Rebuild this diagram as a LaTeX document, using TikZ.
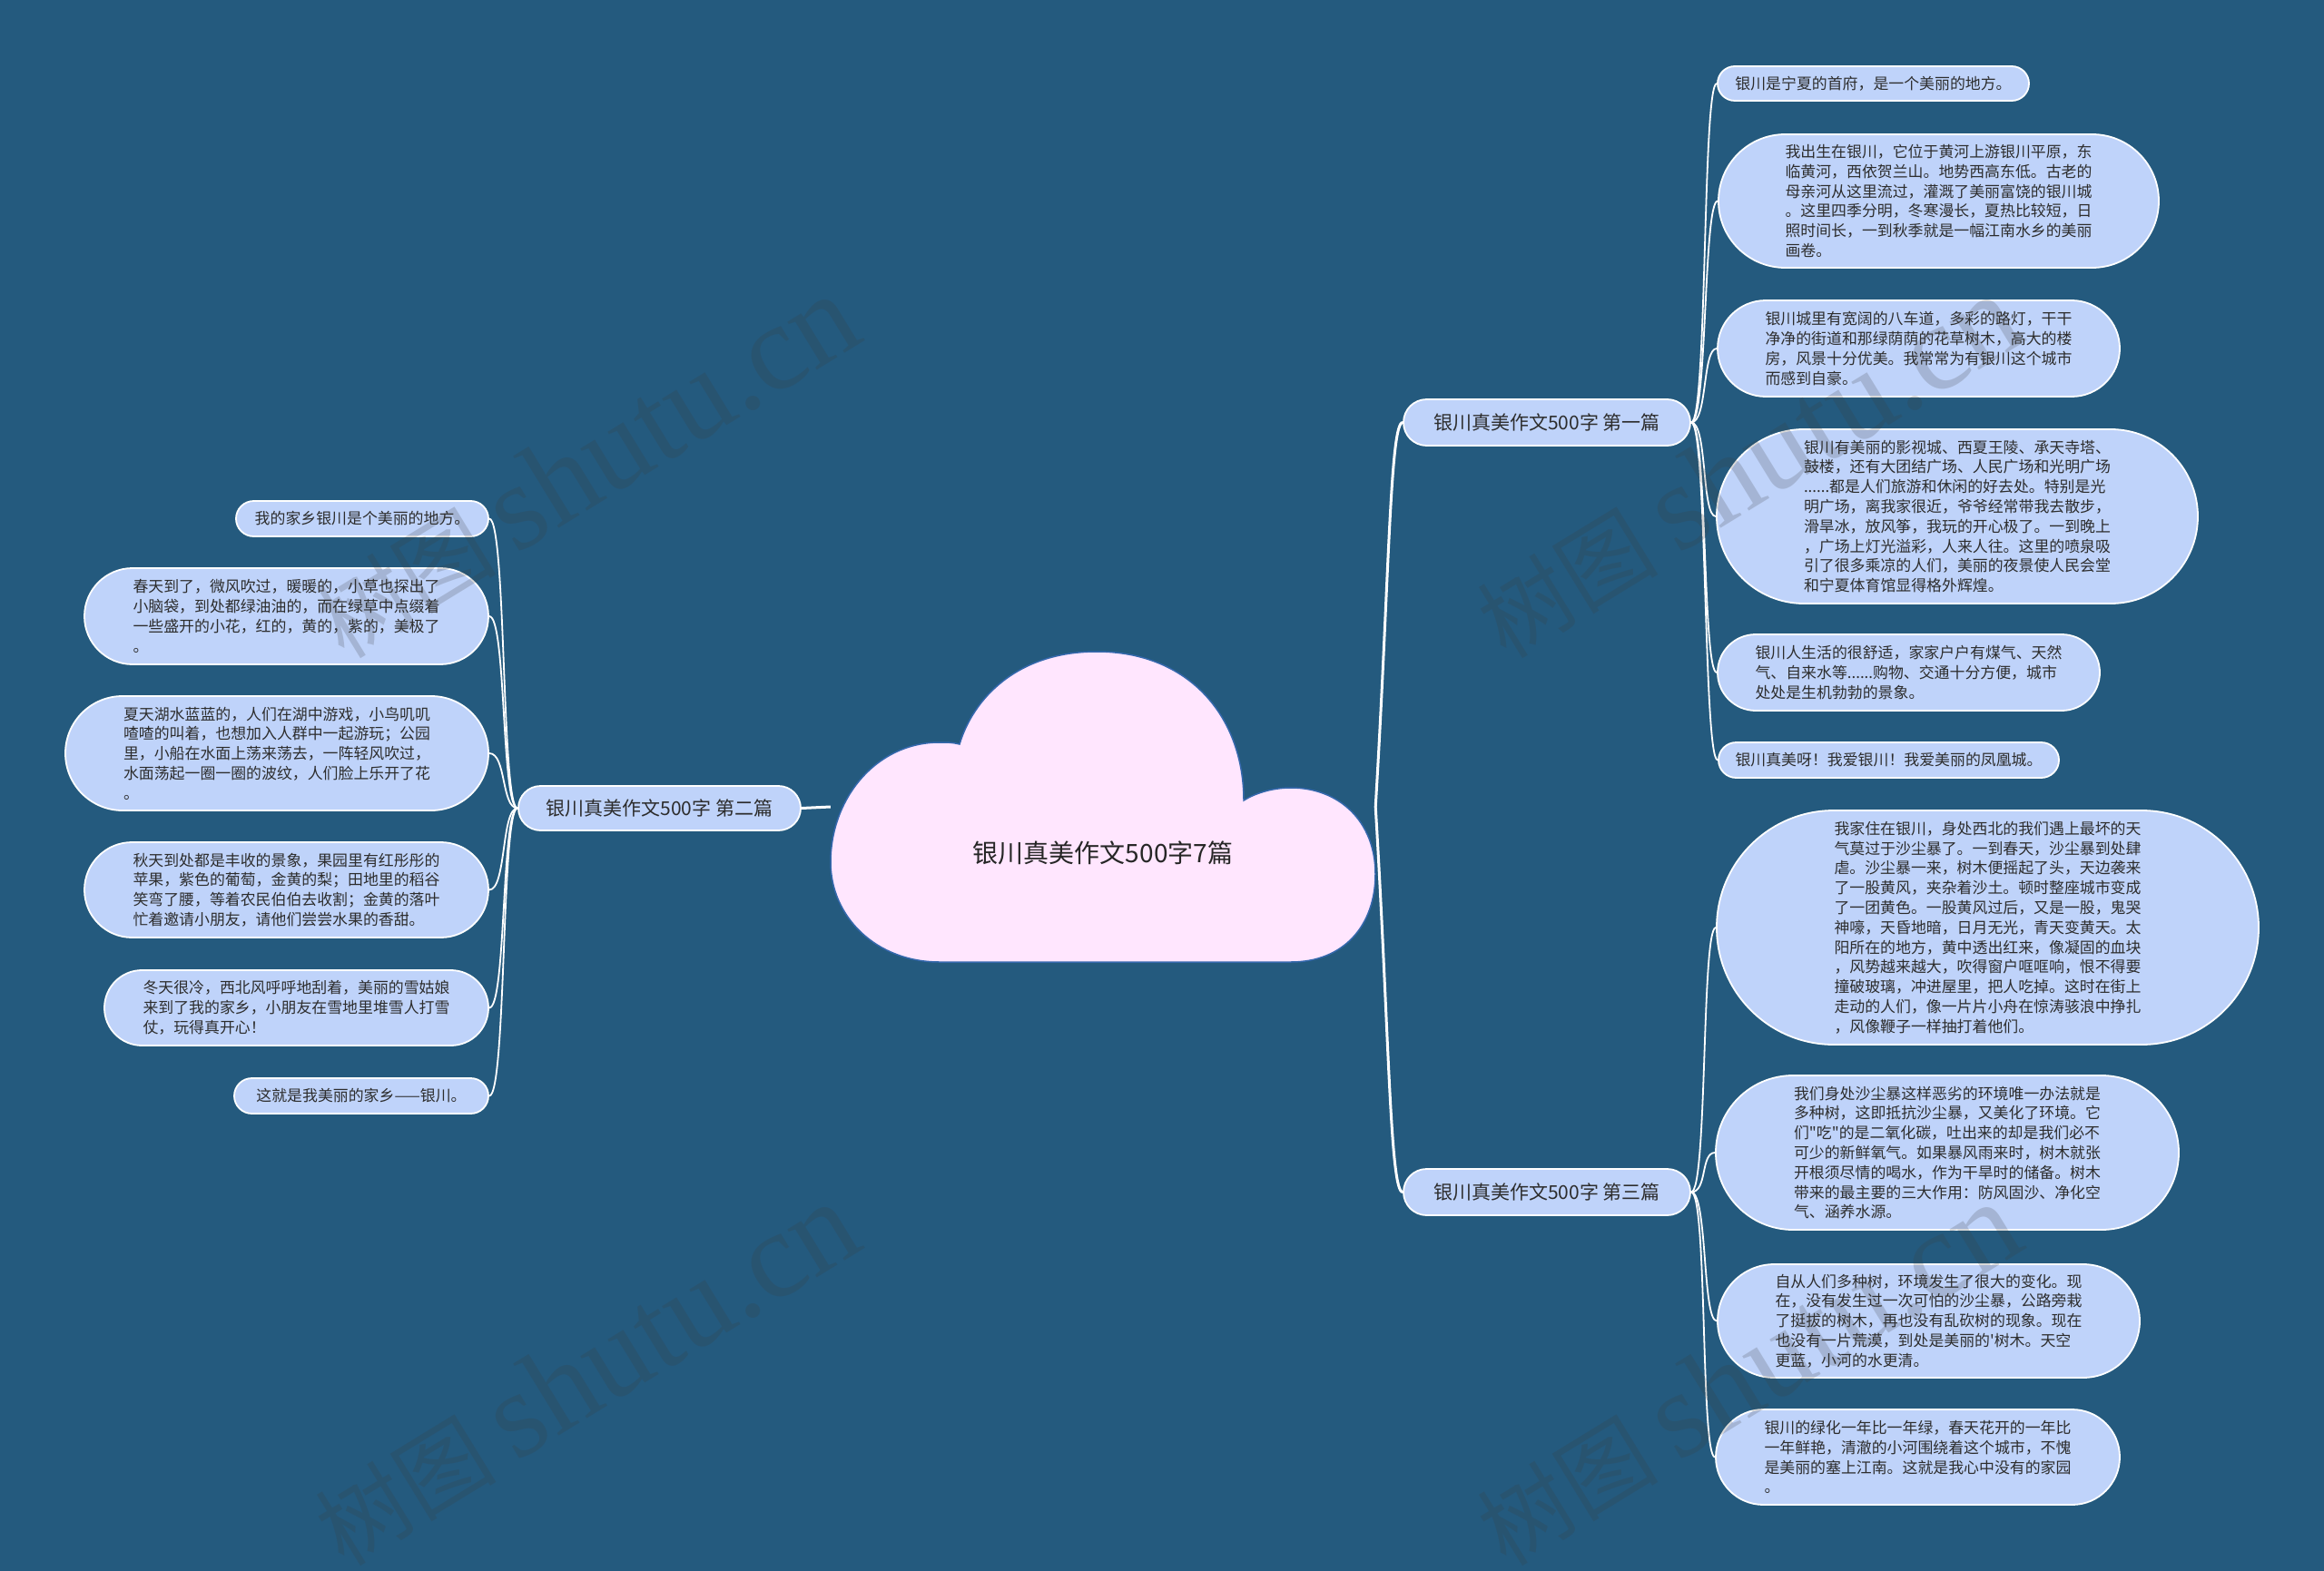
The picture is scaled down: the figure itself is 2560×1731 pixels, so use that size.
\documentclass[tikz,border=0pt]{standalone}
\usepackage{fontspec}
\setmainfont{Noto Sans CJK SC}[Ligatures=TeXOff]
\newfontfamily\wmlat{Liberation Serif}
\usetikzlibrary{shapes.misc,calc}
\definecolor{bg}{RGB}{36,90,126}
\definecolor{leaf}{RGB}{191,211,250}
\definecolor{cloudfill}{RGB}{255,230,254}
\definecolor{cloudline}{RGB}{52,104,172}
\definecolor{txt}{RGB}{45,45,45}
\definecolor{wmcol}{RGB}{60,60,60}
\newcommand\leaffnt{\fontsize{16.9}{21.8}\selectfont}
\tikzset{
  leafbox/.style={rounded rectangle, draw=white, line width=1.8pt, fill=leaf, inner sep=0pt, align=left, text=txt, font=\leaffnt},
  branchbox/.style={rounded rectangle, draw=white, line width=1.8pt, fill=leaf, inner sep=0pt, text=txt, font=\fontsize{21}{24}\selectfont},
  leaflink/.style={draw=white, line width=1.8pt},
  mainlink/.style={draw=white, line width=3pt},
  wm/.style={rotate=31.5, text=wmcol, text opacity=0.2, inner sep=0pt}
}
\begin{document}
\begin{tikzpicture}[x=1pt,y=-1pt]
\useasboundingbox (0,0) rectangle (2560,1731);
\fill[bg] (0,0) rectangle (2560,1731);

% cloud
\fill[cloudfill, draw=cloudline, line width=1.5pt]
  (1035,1060) -- (1422,1060)
  .. controls (1480,1060) and (1515,1020) .. (1515,963)
  .. controls (1515,905) and (1475,868) .. (1422,868)
  .. controls (1400,868) and (1381,875) .. (1370,882)
  .. controls (1370,790) and (1310,718) .. (1208,718)
  .. controls (1120,718) and (1072,770) .. (1057,820)
  .. controls (1050,818) and (1042,818) .. (1035,818)
  .. controls (965,818) and (915,880) .. (915,950)
  .. controls (915,1010) and (965,1060) .. (1035,1060) -- cycle;
\node[minimum width=600pt, minimum height=342pt, inner sep=0pt] (c) at (1215,889) {};
\node[text=black!85, font=\fontsize{28}{32}\selectfont] (t) at (1215,940) {银川真美作文500字7篇};

% branches
\node[branchbox, minimum width=316pt, minimum height=51pt] (b1) at (1704,465.5) {银川真美作文500字 第一篇};
\node[branchbox, minimum width=311pt, minimum height=49pt] (b2) at (726.5,890.5) {银川真美作文500字 第二篇};
\node[branchbox, minimum width=316pt, minimum height=51pt] (b3) at (1704,1313.5) {银川真美作文500字 第三篇};

% right leaves, first
\node[leafbox, minimum width=343pt, minimum height=38pt] (r1) at (2063.5,92) {银川是宁夏的首府，是一个美丽的地方。};
\node[leafbox, minimum width=485pt, minimum height=147pt] (r2) at (2135.5,221.5) {我出生在银川，它位于黄河上游银川平原，东\\临黄河，西依贺兰山。地势西高东低。古老的\\母亲河从这里流过，灌溉了美丽富饶的银川城\\。这里四季分明，冬寒漫长，夏热比较短，日\\照时间长，一到秋季就是一幅江南水乡的美丽\\画卷。};
\node[leafbox, minimum width=443pt, minimum height=106pt] (r3) at (2113.5,384) {银川城里有宽阔的八车道，多彩的路灯，干干\\净净的街道和那绿荫荫的花草树木，高大的楼\\房，风景十分优美。我常常为有银川这个城市\\而感到自豪。};
\node[leafbox, minimum width=530pt, minimum height=192pt] (r4) at (2156,569) {银川有美丽的影视城、西夏王陵、承天寺塔、\\鼓楼，还有大团结广场、人民广场和光明广场\\......都是人们旅游和休闲的好去处。特别是光\\明广场，离我家很近，爷爷经常带我去散步，\\滑旱冰，放风筝，我玩的开心极了。一到晚上\\，广场上灯光溢彩，人来人往。这里的喷泉吸\\引了很多乘凉的人们，美丽的夜景使人民会堂\\和宁夏体育馆显得格外辉煌。};
\node[leafbox, minimum width=421pt, minimum height=84pt] (r5) at (2102.5,741) {银川人生活的很舒适，家家户户有煤气、天然\\气、自来水等......购物、交通十分方便，城市\\处处是生机勃勃的景象。};
\node[leafbox, minimum width=375pt, minimum height=39pt] (r6) at (2080.5,837.5) {银川真美呀！我爱银川！我爱美丽的凤凰城。};

% right leaves, third
\node[leafbox, minimum width=597pt, minimum height=258pt] (r7) at (2189.5,1022) {我家住在银川，身处西北的我们遇上最坏的天\\气莫过于沙尘暴了。一到春天，沙尘暴到处肆\\虐。沙尘暴一来，树木便摇起了头，天边袭来\\了一股黄风，夹杂着沙土。顿时整座城市变成\\了一团黄色。一股黄风过后，又是一股，鬼哭\\神嚎，天昏地暗，日月无光，青天变黄天。太\\阳所在的地方，黄中透出红来，像凝固的血块\\，风势越来越大，吹得窗户哐哐响，恨不得要\\撞破玻璃，冲进屋里，把人吃掉。这时在街上\\走动的人们，像一片片小舟在惊涛骇浪中挣扎\\，风像鞭子一样抽打着他们。};
\node[leafbox, minimum width=510pt, minimum height=170pt] (r8) at (2145,1270) {我们身处沙尘暴这样恶劣的环境唯一办法就是\\多种树，这即抵抗沙尘暴，又美化了环境。它\\们"吃"的是二氧化碳，吐出来的却是我们必不\\可少的新鲜氧气。如果暴风雨来时，树木就张\\开根须尽情的喝水，作为干旱时的储备。树木\\带来的最主要的三大作用：防风固沙、净化空\\气、涵养水源。};
\node[leafbox, minimum width=465pt, minimum height=125pt] (r9) at (2124.5,1455.5) {自从人们多种树，环境发生了很大的变化。现\\在，没有发生过一次可怕的沙尘暴，公路旁栽\\了挺拔的树木，再也没有乱砍树的现象。现在\\也没有一片荒漠，到处是美丽的'树木。天空\\更蓝，小河的水更清。};
\node[leafbox, minimum width=445pt, minimum height=105pt] (r10) at (2112.5,1605.5) {银川的绿化一年比一年绿，春天花开的一年比\\一年鲜艳，清澈的小河围绕着这个城市，不愧\\是美丽的塞上江南。这就是我心中没有的家园\\。};

% left leaves
\node[leafbox, minimum width=278pt, minimum height=39pt] (l1) at (399,571.5) {我的家乡银川是个美丽的地方。};
\node[leafbox, minimum width=445pt, minimum height=106pt] (l2) at (315.5,679) {春天到了，微风吹过，暖暖的，小草也探出了\\小脑袋，到处都绿油油的，而在绿草中点缀着\\一些盛开的小花，红的，黄的，紫的，美极了\\。};
\node[leafbox, minimum width=466pt, minimum height=126pt] (l3) at (305,830) {夏天湖水蓝蓝的，人们在湖中游戏，小鸟叽叽\\喳喳的叫着，也想加入人群中一起游玩；公园\\里，小船在水面上荡来荡去，一阵轻风吹过，\\水面荡起一圈一圈的波纹，人们脸上乐开了花\\。};
\node[leafbox, minimum width=445pt, minimum height=105pt] (l4) at (315.5,980.5) {秋天到处都是丰收的景象，果园里有红彤彤的\\苹果，紫色的葡萄，金黄的梨；田地里的稻谷\\笑弯了腰，等着农民伯伯去收割；金黄的落叶\\忙着邀请小朋友，请他们尝尝水果的香甜。};
\node[leafbox, minimum width=423pt, minimum height=83pt] (l5) at (326.5,1110.5) {冬天很冷，西北风呼呼地刮着，美丽的雪姑娘\\来到了我的家乡，小朋友在雪地里堆雪人打雪\\仗，玩得真开心！};
\node[leafbox, minimum width=280pt, minimum height=39pt] (l6) at (398,1207.5) {这就是我美丽的家乡——银川。};

% main connectors
\draw[mainlink] (c.west) -- (b2.east);
\draw[mainlink] (c.east) .. controls +(15,-250) and ($(b1.west)+(-14,0)$) .. (b1.west);
\draw[mainlink] (c.east) .. controls +(15,250) and ($(b3.west)+(-14,0)$) .. (b3.west);

% leaf connectors
\foreach \n in {r1,r2,r3,r4,r5,r6}
  \draw[leaflink] (b1.east) .. controls +(18,0) and ($(\n.west)+(-16,0)$) .. (\n.west);
\foreach \n in {r7,r8,r9,r10}
  \draw[leaflink] (b3.east) .. controls +(18,0) and ($(\n.west)+(-16,0)$) .. (\n.west);
\foreach \n in {l1,l2,l3,l4,l5,l6}
  \draw[leaflink] (b2.west) .. controls +(-18,0) and ($(\n.east)+(19,0)$) .. (\n.east);

% watermarks
\foreach \p/\q [count=\i] in {645/514, 1925/514, 645/1514, 1925/1514}
  \node[wm] (w\i) at (\p,\q) {{\fontsize{100}{100}\selectfont 树图}\hspace{22pt}{\wmlat\fontsize{135}{135}\selectfont shutu.cn}};
\end{tikzpicture}
\end{document}
